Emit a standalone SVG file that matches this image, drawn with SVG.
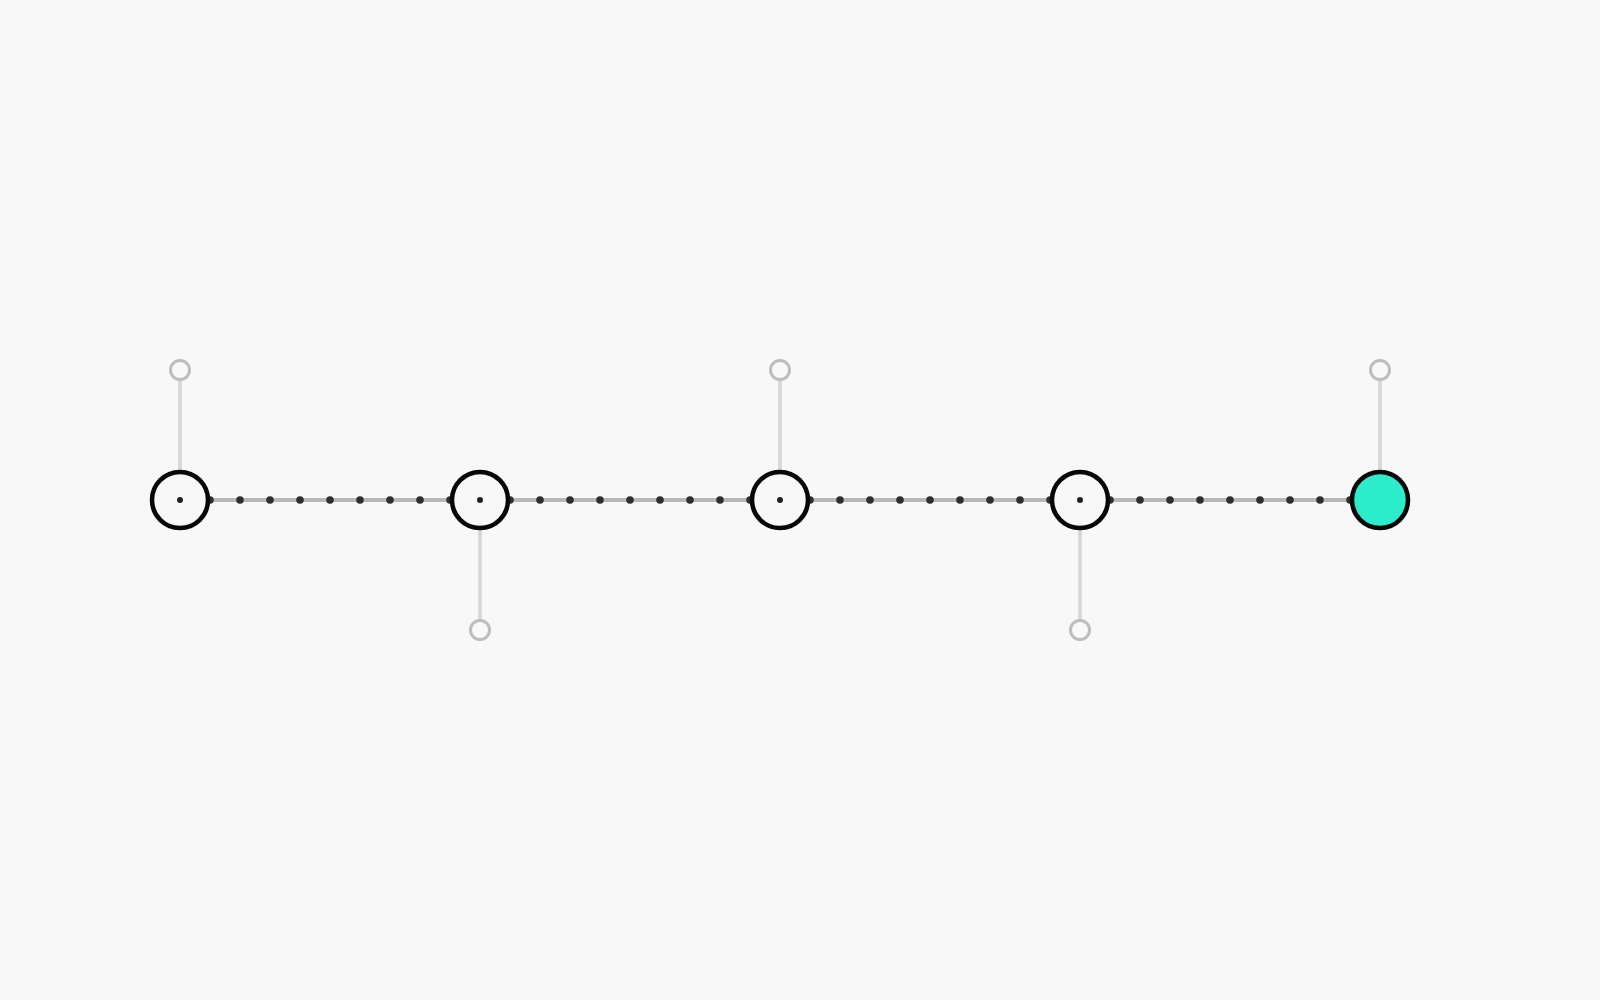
<svg xmlns="http://www.w3.org/2000/svg" width="1600" height="1000" viewBox="0 0 1600 1000">
<style>
.bg{fill:#f8f8f8}
.link{fill:none;stroke:#b8b8b8;stroke-width:4;marker-start:url(#dot);marker-mid:url(#dot);marker-end:url(#dot)}
.stem{stroke:#d9d9d9;stroke-width:4}
.leaf{fill:#f8f8f8;stroke:#bdbdbd;stroke-width:3}
.node{fill:#f8f8f8;stroke:#080808;stroke-width:4.5}
.core{fill:#222222}
.end{fill:#2bedcb;stroke:#080808;stroke-width:4.5}
</style>
<defs>
<marker id="dot" viewBox="-5 -5 10 10" markerWidth="10" markerHeight="10" markerUnits="userSpaceOnUse" refX="0" refY="0" overflow="visible">
<circle r="3.8" fill="#2e2e2e"/>
</marker>
</defs>
<rect class="bg" width="1600" height="1000"/>
<g id="connectors">
<path class="link" d="M210 500 L240 500 L270 500 L300 500 L330 500 L360 500 L390 500 L420 500 L450 500"/>
<path class="link" d="M510 500 L540 500 L570 500 L600 500 L630 500 L660 500 L690 500 L720 500 L750 500"/>
<path class="link" d="M810 500 L840 500 L870 500 L900 500 L930 500 L960 500 L990 500 L1020 500 L1050 500"/>
<path class="link" d="M1110 500 L1140 500 L1170 500 L1200 500 L1230 500 L1260 500 L1290 500 L1320 500 L1350 500"/>
<line class="stem" x1="180" y1="380" x2="180" y2="470"/>
<line class="stem" x1="480" y1="530" x2="480" y2="620"/>
<line class="stem" x1="780" y1="380" x2="780" y2="470"/>
<line class="stem" x1="1080" y1="530" x2="1080" y2="620"/>
<line class="stem" x1="1380" y1="380" x2="1380" y2="470"/>
</g>
<g id="leaf1"><circle class="leaf" cx="180" cy="370" r="9.5"/></g>
<g id="leaf2"><circle class="leaf" cx="480" cy="630" r="9.5"/></g>
<g id="leaf3"><circle class="leaf" cx="780" cy="370" r="9.5"/></g>
<g id="leaf4"><circle class="leaf" cx="1080" cy="630" r="9.5"/></g>
<g id="leaf5"><circle class="leaf" cx="1380" cy="370" r="9.5"/></g>
<g id="node1"><circle class="node" cx="180" cy="500" r="28"/><circle class="core" cx="180" cy="500" r="3"/></g>
<g id="node2"><circle class="node" cx="480" cy="500" r="28"/><circle class="core" cx="480" cy="500" r="3"/></g>
<g id="node3"><circle class="node" cx="780" cy="500" r="28"/><circle class="core" cx="780" cy="500" r="3"/></g>
<g id="node4"><circle class="node" cx="1080" cy="500" r="28"/><circle class="core" cx="1080" cy="500" r="3"/></g>
<g id="node5"><circle class="end" cx="1380" cy="500" r="28"/></g>
</svg>
